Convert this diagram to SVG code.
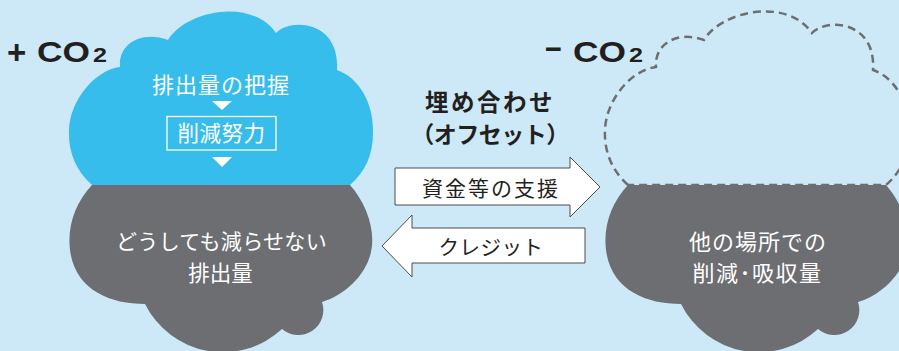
<svg xmlns="http://www.w3.org/2000/svg" xmlns:xlink="http://www.w3.org/1999/xlink" width="899" height="351" viewBox="0 0 899 351">
<style>
.jp{font-family:"Noto Sans CJK JP","Noto Sans",sans-serif;}
.white{fill:#ffffff;}
.dark{fill:#231f20;}
.co{font-family:"Liberation Sans","Noto Sans",sans-serif;font-weight:bold;fill:#231f20;}
.arrow{fill:#ffffff;stroke:#4d4d4f;stroke-width:1;}
.blue{fill:#36bdec;}
.gray{fill:#6d6e72;}
.dash{fill:none;stroke:#6d6e72;stroke-width:2.5;stroke-dasharray:8 5;}
</style>
<defs>
<path id="cloudTop" d="M92,185 C75,170 68,150 69,130 C70,100 95,70 120,67 C118,45 140,30 168,40 C184,12 250,-4 276,33 C290,18 340,20 337,70 C360,78 374,105 373,133 C373,155 365,172 350,185 Z"/>
<path id="cloudBottom" d="M92,185 L350,185 C366,203 376,230 371,252 C366,275 345,295 322,302 A25,25 0 0 1 282,329 A87,87 0 0 1 145,304 C110,304 75,290 70,250 C67,225 76,202 92,185 Z"/>
</defs>
<rect x="0" y="0" width="899" height="351" fill="#cde9f7"/>

<g id="cloud-left-top">
<use xlink:href="#cloudTop" class="blue"/>
<text class="jp white" x="221" y="93" font-size="22" text-anchor="middle" letter-spacing="1">排出量の把握</text>
<polygon class="white" points="212,101 232,101 222,110"/>
<rect x="167" y="116.5" width="109" height="33.5" fill="none" stroke="#ffffff" stroke-width="1.3"/>
<text class="jp white" x="221.5" y="141" font-size="21.5" text-anchor="middle" letter-spacing="0.5">削減努力</text>
<polygon class="white" points="212,157 232,157 222,167"/>
</g>

<g id="cloud-left-bottom">
<use xlink:href="#cloudBottom" class="gray"/>
<text class="jp white" x="221.5" y="249" font-size="21" text-anchor="middle" letter-spacing="0.3">どうしても減らせない</text>
<text class="jp white" x="220.5" y="281" font-size="21.5" text-anchor="middle">排出量</text>
</g>

<g id="cloud-right-bottom">
<use xlink:href="#cloudBottom" class="gray" transform="translate(536,0)"/>
<text class="jp white" x="758" y="250" font-size="22" text-anchor="middle" letter-spacing="1">他の場所での</text>
<text class="jp white" x="757.5" y="281" font-size="22" text-anchor="middle" letter-spacing="1.5">削減･吸収量</text>
</g>

<g id="cloud-right-top">
<use xlink:href="#cloudTop" class="dash" transform="translate(536,0)"/>
</g>

<g id="label-plus-co2">
<text class="co" x="7" y="64" font-size="33">+</text>
<text class="co" x="37" y="62" font-size="29.5" textLength="53" lengthAdjust="spacingAndGlyphs">CO</text>
<text class="co" x="93" y="62" font-size="20" textLength="14" lengthAdjust="spacingAndGlyphs">2</text>
</g>

<g id="label-minus-co2">
<text class="co" x="545" y="60" font-size="32" textLength="17" lengthAdjust="spacingAndGlyphs">−</text>
<text class="co" x="573" y="62" font-size="29.5" textLength="53" lengthAdjust="spacingAndGlyphs">CO</text>
<text class="co" x="629" y="62" font-size="20" textLength="14" lengthAdjust="spacingAndGlyphs">2</text>
</g>

<g id="title-offset">
<text class="jp dark" x="490" y="111" font-size="23.5" font-weight="bold" text-anchor="middle" letter-spacing="2.5">埋め合わせ</text>
<text class="jp dark" x="490" y="143" font-size="23" font-weight="bold" text-anchor="middle" letter-spacing="-0.5">（オフセット）</text>
</g>

<g id="connectors">
<g id="arrow-support">
<polygon class="arrow" points="395,168 570,168 570,157 600,187 570,217 570,205 395,205"/>
<text class="jp dark" x="491" y="196" font-size="21" text-anchor="middle" letter-spacing="2">資金等の支援</text>
</g>
<g id="arrow-credit">
<polygon class="arrow" points="585,228 412,228 412,215 382,246 412,277 412,263 585,263"/>
<text class="jp dark" x="491" y="255" font-size="20.5" text-anchor="middle" letter-spacing="0.5">クレジット</text>
</g>
</g>
</svg>
